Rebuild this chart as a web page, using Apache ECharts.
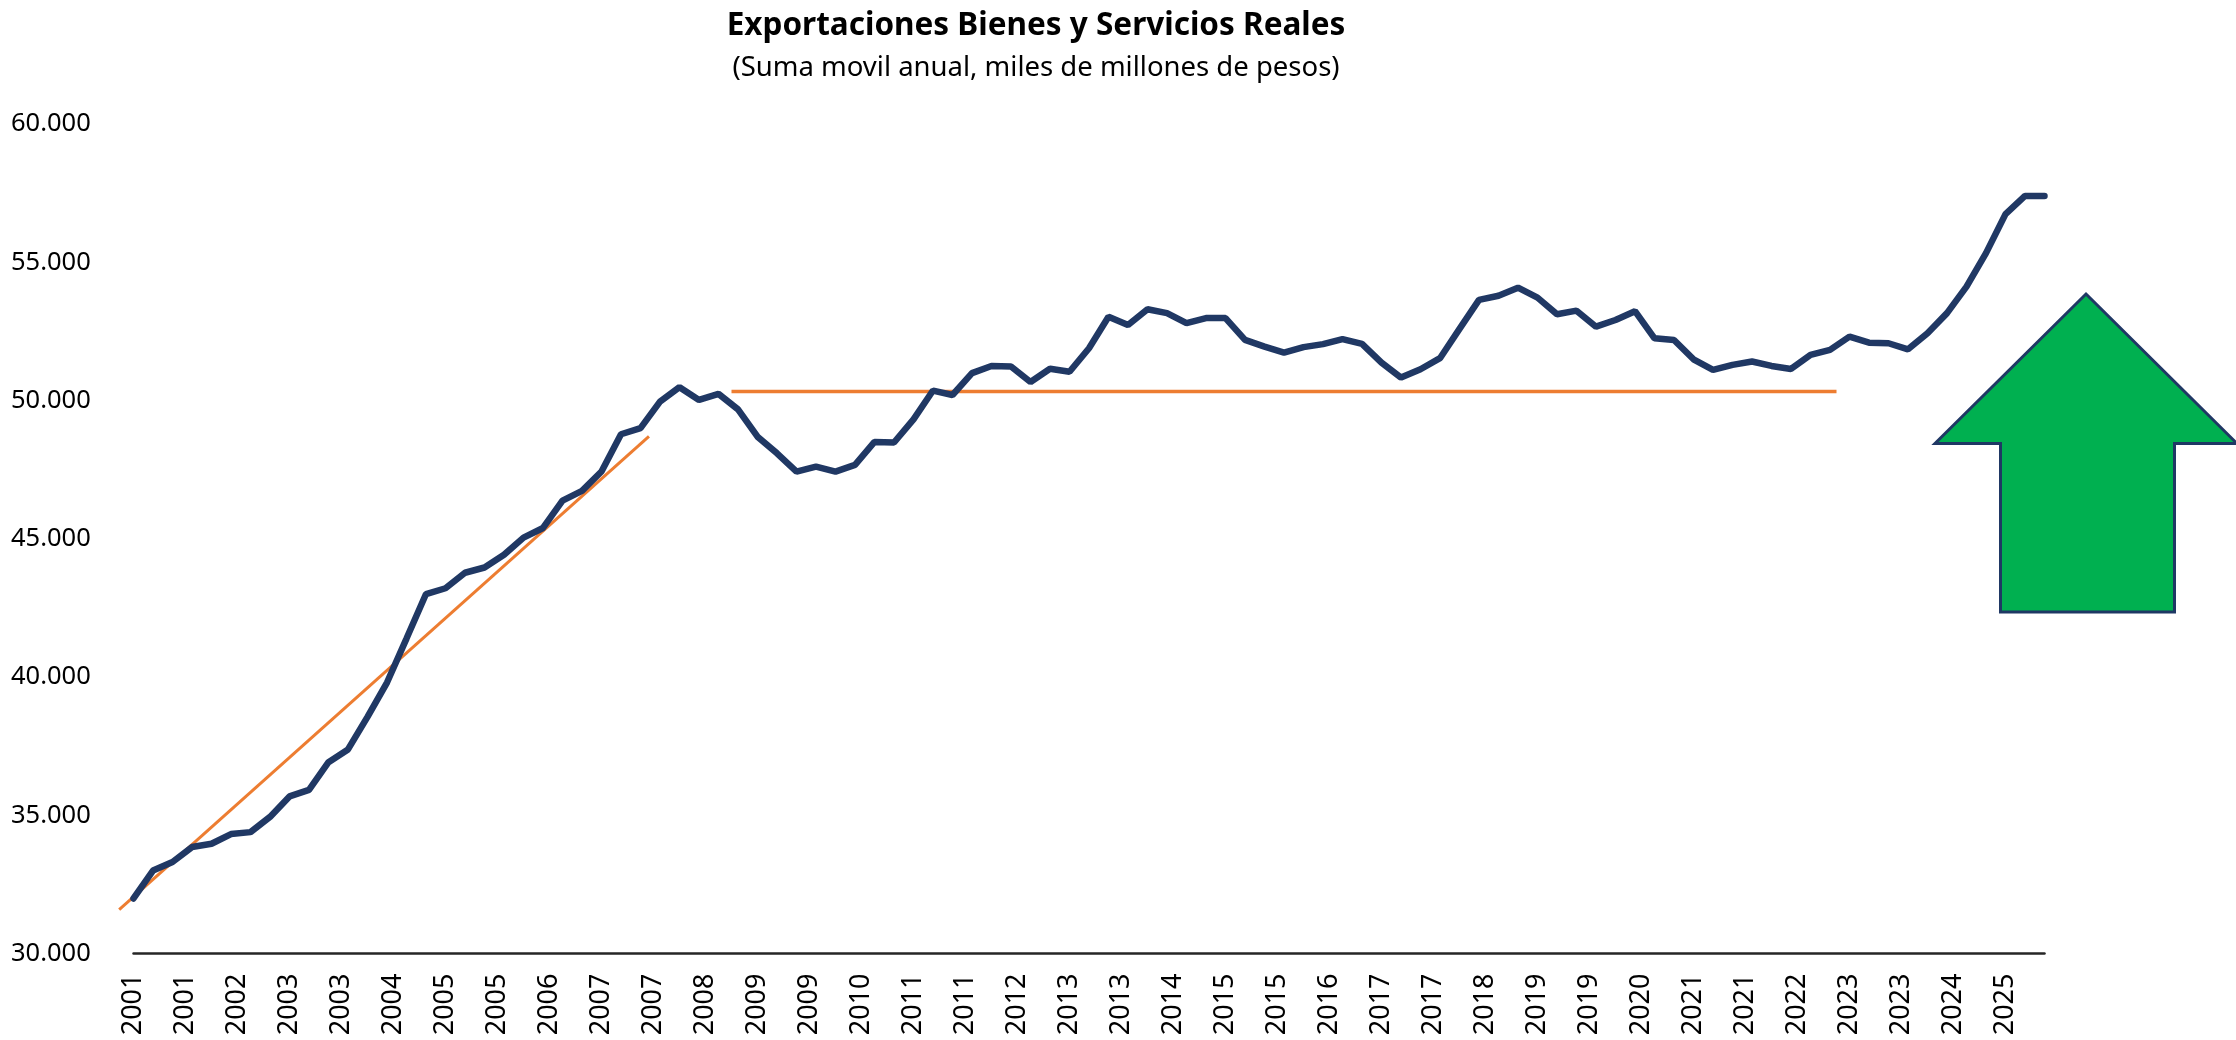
<!DOCTYPE html>
<html>
<head>
<meta charset="utf-8">
<script src="https://cdn.jsdelivr.net/npm/echarts@6/dist/echarts.min.js"></script>
<style>
html,body{margin:0;padding:0;background:#fff;}
#chart{width:2236px;height:1040px;}
</style>
</head>
<body>
<div id="chart"></div>
<script>
// Quarterly rolling annual sum, 2001Q1 .. 2025Q3 (miles de millones de pesos)
const quarterStart = { year: 2001, quarter: 1 };
const exportsReal = [
  31990, 33000, 33310, 33850, 33970, 34320, 34390, 34940, 35680, 35920,
  36920, 37380, 38560, 39800, 41390, 43000, 43210, 43770, 43960, 44420,
  45040, 45390, 46380, 46730, 47430, 48780, 49000, 49960, 50480, 50020,
  50240, 49680, 48690, 48090, 47430, 47610, 47430, 47670, 48500, 48480,
  49320, 50360, 50200, 50990, 51250, 51230, 50670, 51150, 51040, 51890,
  53030, 52730, 53300, 53160, 52800, 52980, 52980, 52190, 51950, 51730,
  51930, 52040, 52220, 52050, 51370, 50830, 51130, 51530, 52590, 53640,
  53790, 54080, 53720, 53120, 53250, 52670, 52910, 53230, 52250, 52190,
  51490, 51110, 51290, 51410, 51250, 51140, 51650, 51830, 52310, 52090,
  52070, 51850, 52430, 53160, 54120, 55330, 56740, 57400, 57400
];
// Orange guide lines: [months since first quarter, value]
const trendGrowth = [[-2.2, 31590], [79.3, 48700]];
const trendPlateau = [[92, 50330], [262, 50330]];
// Tick labels
const xTickLabels = ['2001','2001','2002','2003','2003','2004','2005','2005','2006','2007','2007','2008','2009','2009','2010','2011','2011','2012','2013','2013','2014','2015','2015','2016','2017','2017','2018','2019','2019','2020','2021','2021','2022','2023','2023','2024','2025'];
const yTickLabels = ['30.000','35.000','40.000','45.000','50.000','55.000','60.000'];
const titleText = 'Exportaciones Bienes y Servicios Reales';
const subtitleText = '(Suma movil anual, miles de millones de pesos)';

const seriesData = exportsReal.map((v, i) => [i * 3, v]);

const chart = echarts.init(document.getElementById('chart'), null, { renderer: 'canvas' });
const FONT = '"Noto Sans", "Open Sans", sans-serif';
// main plot: 0..294 months over 1911px (6.5 px per month)
const PX_PER_MONTH = 6.5;
const LEFT = 133.5, RIGHT = 191.5, TOP = 124, BOTTOM = 86.5;
const option = {
  animation: false,
  backgroundColor: '#ffffff',
  grid: [
    { left: LEFT, right: RIGHT, top: TOP, bottom: BOTTOM, containLabel: false },
    // overlay grid with the same scale, extended 8 months to the left (for the guide line start)
    { left: LEFT - 8 * PX_PER_MONTH, right: RIGHT, top: TOP, bottom: BOTTOM, containLabel: false }
  ],
  xAxis: [
    {
      type: 'value', gridIndex: 0,
      min: 0, max: 294, interval: 8,
      splitLine: { show: false },
      axisTick: { show: false },
      axisLine: { show: true, lineStyle: { color: '#262626', width: 2.5 } },
      axisLabel: {
        rotate: 90, margin: 20, fontSize: 27, color: '#000', fontFamily: FONT,
        showMaxLabel: false,
        formatter: function (v) {
          if (v % 8 !== 0) return '';
          const k = v / 8;
          return xTickLabels[k] !== undefined ? xTickLabels[k] : '';
        }
      }
    },
    {
      type: 'value', gridIndex: 1, show: false,
      min: -8, max: 294, interval: 8,
      splitLine: { show: false }, axisLine: { show: false }, axisTick: { show: false }, axisLabel: { show: false }
    }
  ],
  yAxis: [
    {
      type: 'value', gridIndex: 0,
      min: 30000, max: 60000, interval: 5000,
      splitLine: { show: false },
      axisTick: { show: false },
      axisLine: { show: false },
      axisLabel: {
        align: 'left', margin: 122.5, fontSize: 25.5, color: '#000', fontFamily: FONT,
        formatter: function (v) {
          const k = Math.round((v - 30000) / 5000);
          return yTickLabels[k] !== undefined ? yTickLabels[k] : '';
        }
      }
    },
    {
      type: 'value', gridIndex: 1, show: false,
      min: 30000, max: 60000, interval: 5000,
      splitLine: { show: false }, axisLine: { show: false }, axisTick: { show: false }, axisLabel: { show: false }
    }
  ],
  series: [
    {
      type: 'line', xAxisIndex: 1, yAxisIndex: 1, data: trendGrowth, symbol: 'none', z: 3,
      lineStyle: { color: '#ED7D31', width: 3 }
    },
    {
      type: 'line', xAxisIndex: 1, yAxisIndex: 1, data: trendPlateau, symbol: 'none', z: 3,
      lineStyle: { color: '#ED7D31', width: 3.5 }
    },
    {
      type: 'line', xAxisIndex: 0, yAxisIndex: 0, data: seriesData, symbol: 'none', clip: false, z: 4,
      lineStyle: { color: '#203864', width: 6.5, cap: 'round' }
    }
  ],
  graphic: [
    {
      type: 'text', x: 1036, y: 26, z: 10,
      style: { text: titleText, fontSize: 31.5, fontWeight: 'bold', fontFamily: FONT, fill: '#000', align: 'center', verticalAlign: 'middle' }
    },
    {
      type: 'text', x: 1036, y: 68, z: 10,
      style: { text: subtitleText, fontSize: 27.5, fontFamily: FONT, fill: '#000', align: 'center', verticalAlign: 'middle' }
    },
    {
      type: 'polygon', z: 5,
      shape: { points: [[2086, 294], [2237, 443.5], [2174.5, 443.5], [2174.5, 612], [2000.5, 612], [2000.5, 443.5], [1935, 443.5]] },
      style: { fill: '#00B050', stroke: '#1F3864', lineWidth: 3 }
    }
  ]
};
chart.setOption(option);
</script>
</body>
</html>
